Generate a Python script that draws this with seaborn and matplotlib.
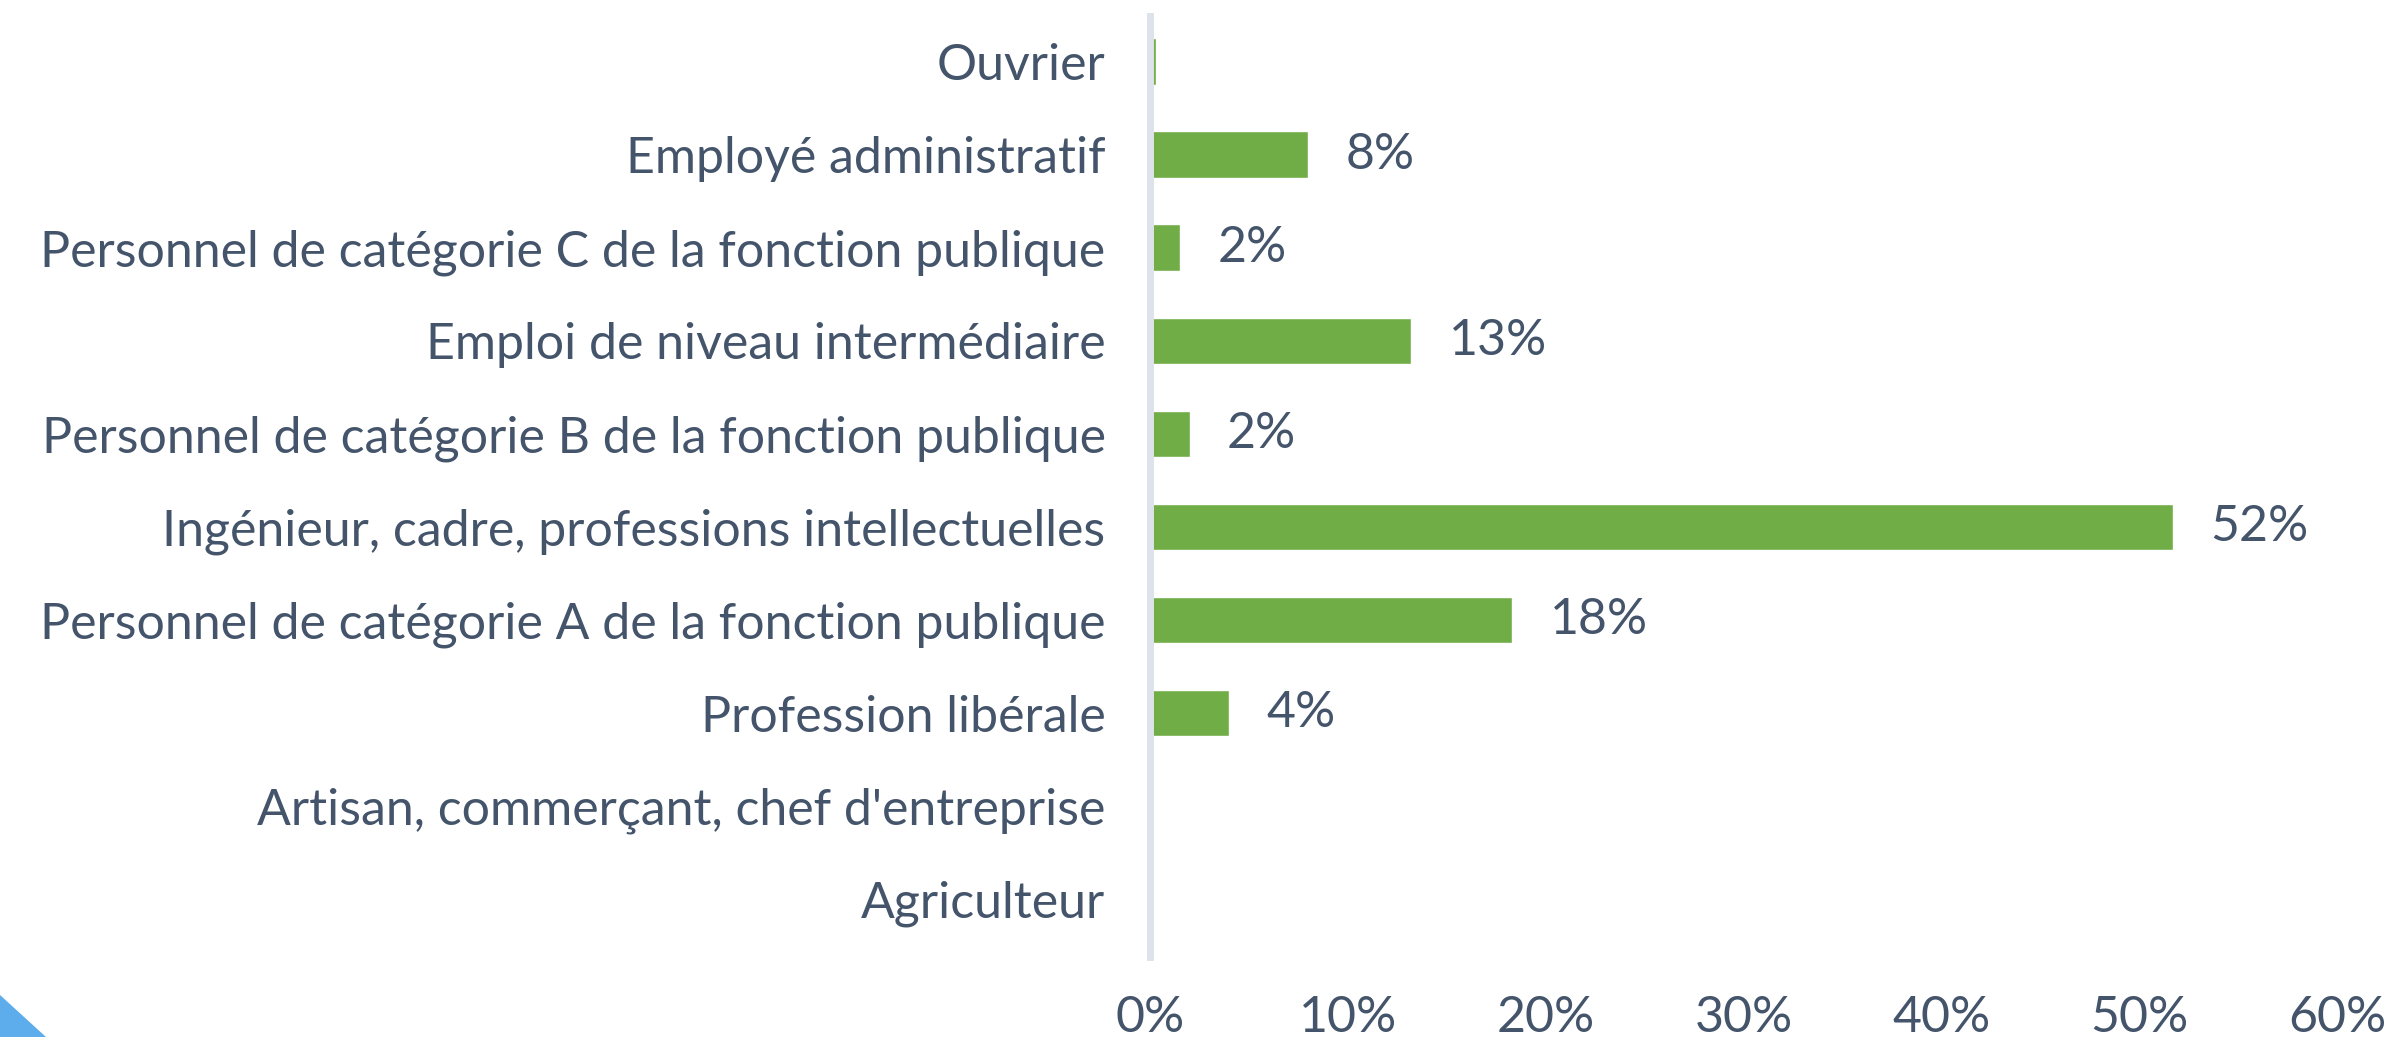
import matplotlib
matplotlib.use("Agg")
import matplotlib.pyplot as plt
import seaborn as sns
import pandas as pd
from matplotlib.patches import Polygon

# ---------- DATA
categories = [
    "Ouvrier",
    "Employé administratif",
    "Personnel de catégorie C de la fonction publique",
    "Emploi de niveau intermédiaire",
    "Personnel de catégorie B de la fonction publique",
    "Ingénieur, cadre, professions intellectuelles",
    "Personnel de catégorie A de la fonction publique",
    "Profession libérale",
    "Artisan, commerçant, chef d'entreprise",
    "Agriculteur",
]
shares = [0.3, 8.0, 1.5, 13.2, 2.0, 51.7, 18.3, 4.0, 0.0, 0.0]
value_labels = ["", "8%", "2%", "13%", "2%", "52%", "18%", "4%", "", ""]
x_ticks = [0, 10, 20, 30, 40, 50, 60]

df = pd.DataFrame({"category": categories, "share": shares})

# ---------- STYLE
bar_color = "#70AD47"
text_color = "#44546A"
axis_color = "#DEE2EA"
fs = 36

sns.set_theme(style="white")
plt.rcParams["font.family"] = ["Lato", "DejaVu Sans"]

W, H = 2391, 1037
fig = plt.figure(figsize=(W / 100, H / 100), dpi=100)
ax = fig.add_axes([1150 / W, 1 - 957 / H, (2337 - 1150) / W, (957 - 16) / H])

sns.barplot(data=df, x="share", y="category", orient="h",
            color=bar_color, width=0.5, saturation=1, ax=ax)

ax.bar_label(ax.containers[0], labels=value_labels, padding=27,
             fontsize=fs, color=text_color)

# ---------- AXES
ax.set_xlim(0, 60)
ax.set_ylim(9.62, -0.49)
ax.set_xticks(x_ticks)
ax.set_xticklabels([f"{t}%" for t in x_ticks])
ax.set_xlabel("")
ax.set_ylabel("")
for side in ["top", "right", "bottom"]:
    ax.spines[side].set_visible(False)
ax.spines["left"].set_color(axis_color)
ax.spines["left"].set_linewidth(5)
ax.tick_params(axis="both", length=0, labelsize=fs, labelcolor=text_color)
ax.tick_params(axis="y", pad=32)
ax.tick_params(axis="x", pad=27)

# blue corner from the original screenshot
fig.patches.append(Polygon([[0, 1 - 995 / H], [46 / W, 0], [0, 0]],
                           closed=True, transform=fig.transFigure,
                           facecolor="#5DADEC", edgecolor="none"))

fig.savefig("out.png", dpi=100)
